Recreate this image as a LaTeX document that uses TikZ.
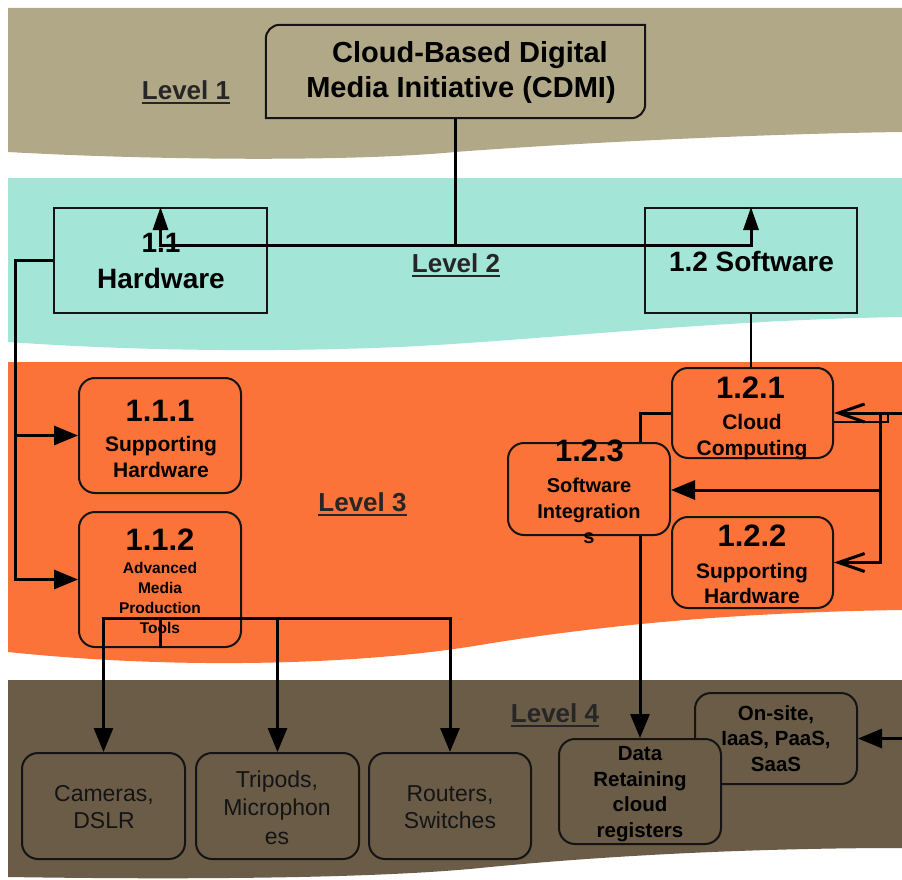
\documentclass[tikz,border=0pt]{standalone}
\usepackage{fontspec}
\setmainfont{Liberation Sans}
\usetikzlibrary{arrows.meta}
\pgfdeclarelayer{bg}
\pgfdeclarelayer{mid}
\pgfsetlayers{bg,mid,main}
\definecolor{tanb}{HTML}{B1A888}
\definecolor{tealb}{HTML}{A3E6D8}
\definecolor{orab}{HTML}{FB7338}
\definecolor{brnb}{HTML}{6A5C47}
\definecolor{lvl}{HTML}{262626}
\definecolor{edge}{HTML}{141414}
\definecolor{dtext}{HTML}{141414}
\newcommand{\myfs}[2]{\fontsize{#1}{#2}\selectfont}
\newcommand{\lvlul}[1]{\setbox0\hbox{#1}\rlap{\rule[-4.5pt]{\wd0}{2pt}}\box0}
\tikzset{
  box/.style={draw=edge, line width=2pt, inner sep=0pt},
  rbox/.style={box, rounded corners=16pt},
  txt/.style={inner sep=0pt, align=center},
  lvltxt/.style={txt, text=lvl, font=\myfs{26}{30}\bfseries},
  num/.style={txt, font=\myfs{31}{36}\bfseries},
  conn/.style={line width=3pt, draw=black},
  arr/.style={conn, -{Triangle[length=24pt,width=19pt]}},
  arrn/.style={conn, -{Triangle[length=23pt,width=15pt]}},
  oarr/.style={conn, -{Straight Barb[length=26pt,width=18pt]}},
}
\begin{document}
\begin{tikzpicture}[x=1pt,y=-1pt]
\useasboundingbox (0,0) rectangle (902,880);
\begin{pgfonlayer}{bg}
\fill[white] (0,0) rectangle (902,880);
\fill[tanb] (8,8) -- (902,8) -- (902,132) .. controls (750,134) and (560,144) .. (455,152) .. controls (350,162) and (150,160) .. (8,152) -- cycle;
\fill[tealb] (8,178) -- (902,178) -- (902,317) .. controls (720,320) and (560,338) .. (420,346) .. controls (300,352) and (150,352) .. (8,342) -- cycle;
\fill[orab] (8,362) -- (902,362) -- (902,610) .. controls (760,612) and (620,622) .. (480,645) .. controls (380,662) and (200,672) .. (8,652) -- cycle;
\fill[brnb] (8,680) -- (902,680) -- (902,848) .. controls (750,848) and (600,856) .. (480,868) .. controls (380,878) and (200,880) .. (8,877) -- cycle;
\end{pgfonlayer}

% level labels
\node[lvltxt] (L1) at (186,92) {\lvlul{Level 1}};
\node[lvltxt] (L2) at (456,265) {\lvlul{Level 2}};
\node[lvltxt] (L3) at (362.5,504.5) {\lvlul{Level 3}};
\node[lvltxt] (L4) at (555,715.5) {\lvlul{Level 4}};

% level 1 box
\node[inner sep=0pt, minimum width=379pt, minimum height=93pt] (cdmi) at (455.5,71.5) {};
\draw[line width=2pt, draw=edge] (cdmi.south west) -- ([yshift=-14pt]cdmi.north west)
  arc[start angle=180, end angle=90, radius=14pt] -- (cdmi.north east)
  -- ([yshift=14pt]cdmi.south east) arc[start angle=0, end angle=-90, radius=14pt] -- cycle;

% level 2 boxes
\node[box, fill=tealb, minimum width=213pt, minimum height=105pt] (n11) at (160.5,260.5) {};
\node[box, fill=tealb, minimum width=212pt, minimum height=105pt] (n12) at (751,260.5) {};

% level 3 boxes
\node[rbox, fill=orab, minimum width=162pt, minimum height=115pt] (n111) at (160,435.5) {};
\node[rbox, fill=orab, minimum width=162pt, minimum height=135pt] (n112) at (160,579.5) {};
\node[rbox, fill=orab, minimum width=161pt, minimum height=90pt] (n121) at (752.5,413) {};
\node[rbox, fill=orab, minimum width=161pt, minimum height=91pt] (n122) at (752.5,562.5) {};
\node[rbox, fill=orab, minimum width=162pt, minimum height=92pt] (n123) at (589,489) {};

% level 4 boxes
\node[rbox, fill=brnb, minimum width=163pt, minimum height=106pt] (cam) at (103.5,806) {};
\node[rbox, fill=brnb, minimum width=163pt, minimum height=106pt] (tri) at (277.5,806) {};
\node[rbox, fill=brnb, minimum width=162pt, minimum height=106pt] (rout) at (450,806) {};
\node[rbox, fill=brnb, minimum width=162pt, minimum height=91pt] (onsite) at (776,738.5) {};
\node[rbox, fill=brnb, minimum width=162pt, minimum height=105pt] (dat) at (640,791.5) {};

% texts
\node[txt, font=\myfs{29}{35}\bfseries] (tcdmi) at (461,73) {\hspace*{18pt}Cloud-Based Digital\\Media Initiative (CDMI)};
\node[txt, font=\myfs{28}{36.5}\bfseries] (t11) at (161,261) {1.1\\Hardware};
\node[txt, font=\myfs{28}{34}\bfseries] (t12) at (751.5,261) {1.2 Software};

\node[num] (t111n) at (160,411) {1.1.1};
\node[txt, font=\myfs{21}{25.6}\bfseries] (t111) at (161,457) {Supporting\\Hardware};
\node[num] (t112n) at (160,540) {1.1.2};
\node[txt, font=\myfs{15.5}{20}\bfseries] (t112) at (160,598) {Advanced\\Media\\Production\\Tools};
\node[num] (t121n) at (750.5,388) {1.2.1};
\node[txt, font=\myfs{21}{25.7}\bfseries] (t121) at (752,437) {Cloud\\Computing};
\node[num] (t123n) at (589.5,451) {1.2.3};
\node[txt, font=\myfs{20}{25.7}\bfseries] (t123) at (589,511) {Software\\Integration\\s};
\node[num] (t122n) at (752,536) {1.2.2};
\node[txt, font=\myfs{21}{25.7}\bfseries] (t122) at (752,583.5) {Supporting\\Hardware};

\node[txt, text=dtext, font=\myfs{23}{27.6}] (tcam) at (104,807) {Cameras,\\DSLR};
\node[txt, text=dtext, font=\myfs{23}{28.3}] (ttri) at (277,807.5) {Tripods,\\Microphon\\es};
\node[txt, text=dtext, font=\myfs{23}{27.6}] (trout) at (450,807) {Routers,\\Switches};
\node[txt, font=\myfs{20.5}{25.6}\bfseries] (tdat) at (640,794) {Data\\Retaining\\cloud\\registers};
\node[txt, font=\myfs{20.5}{25.3}\bfseries] (tons) at (776,738.5) {On-site,\\IaaS, PaaS,\\SaaS};

% connectors under 1.2.3
\begin{pgfonlayer}{mid}
\draw[arr] (n121.west) -| (dat.north);
\end{pgfonlayer}

% connectors
\coordinate (j2) at (cdmi.south |- 0,245);
\draw[conn] (cdmi.south) -- (j2);
\draw[arrn] (j2) -| (n11.north);
\draw[arrn] (j2) -| (n12.north);

\coordinate (c2) at (15,0 |- n112.west);
\coordinate (c3) at (15,0 |- n111.west);
\draw[arr] (n11.west) -| (c2) -- (n112.west);
\draw[arr] (c3) -- (n111.west);

\coordinate (j3) at (n112.south |- 0,618);
\draw[conn] (n112.south) -- (j3);
\draw[arr] (j3) -| (cam.north);
\draw[arr] (j3) -| (tri.north);
\draw[arr] (j3) -| (rout.north);

\draw[line width=2.5pt] (n12.south) -- (n12.south |- n121.north);

\coordinate (e1) at (902,0 |- n121.east);
\coordinate (v1) at (880,0 |- n121.east);
\coordinate (v3) at (880,490);
\draw[oarr] (e1) -- (n121.east);
\draw[oarr] (v1) |- (n122.east);
\draw[arr] (v3) -- (v3 -| n123.east);
\draw[line width=2pt] ([yshift=-9pt]n121.east) -- ++(54,0) -- ++(0,-9);

\coordinate (e2) at (902,0 |- onsite.east);
\draw[arr] (e2) -- (onsite.east);
\end{tikzpicture}
\end{document}
